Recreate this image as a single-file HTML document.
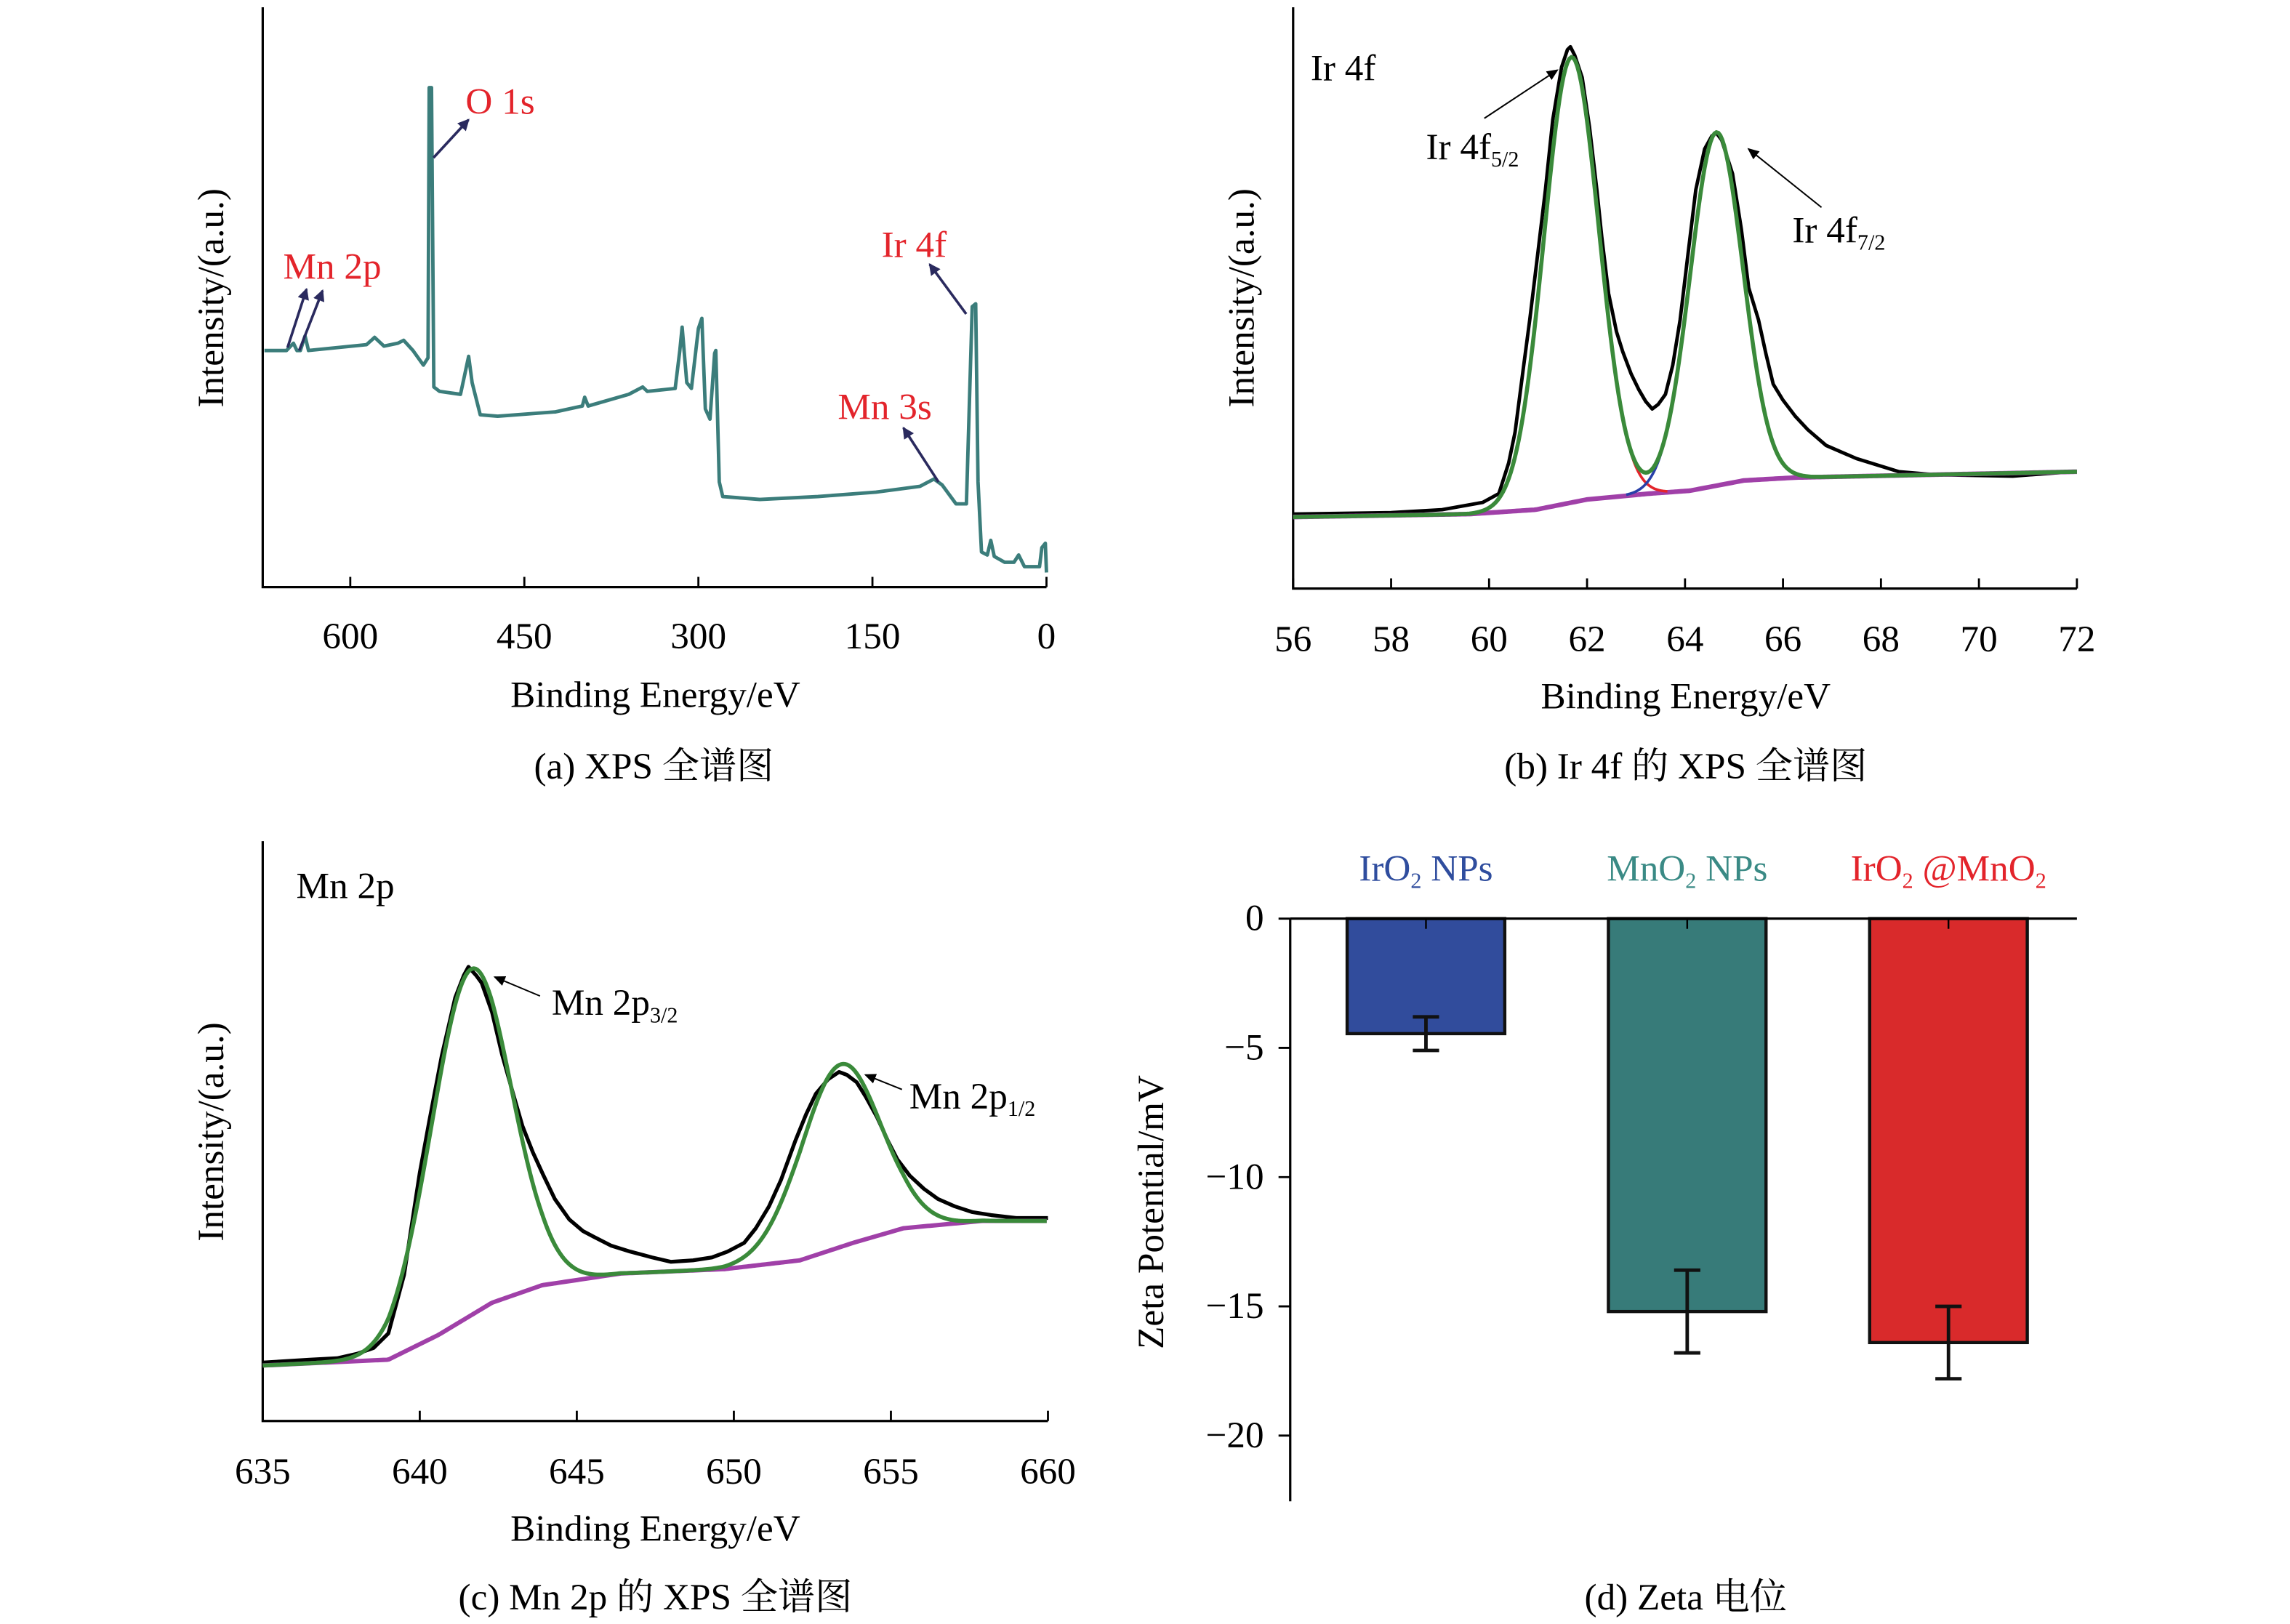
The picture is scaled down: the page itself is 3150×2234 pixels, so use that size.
<!DOCTYPE html>
<html><head><meta charset="utf-8"><style>
html,body{margin:0;padding:0;background:#fff;}
svg{display:block;}
text{font-family:"Liberation Serif","Noto Serif CJK SC","Noto Sans CJK SC",serif;}
</style></head><body>
<svg id="fig" width="3150" height="2234" viewBox="0 0 1569 1112" preserveAspectRatio="none" xmlns="http://www.w3.org/2000/svg">
<defs>
<marker id="ahN" markerWidth="8" markerHeight="8" refX="7" refY="4" orient="auto" markerUnits="userSpaceOnUse"><path d="M0,0 L8,4 L0,8 z" fill="#2a2a5e"/></marker>
<marker id="ahK" markerWidth="8" markerHeight="7" refX="7" refY="3.5" orient="auto" markerUnits="userSpaceOnUse"><path d="M0,0 L8,3.5 L0,7 z" fill="#000"/></marker>
</defs>
<g id="pa"></g>
<g id="pb"></g>
<g id="pc"></g>
<g id="pd"></g>
</svg>
<script>
// ---------- Panel a data ----------
const aBE = [674,655,649,646,643,639,636,611,586,579,571,559,554,546,537,533,532,530,528,523,505,498,495,488,473,423,400,398,395,360,348,344,320,316,314,310,306,300,297,294,290,286,285,282,279,247,197,147,109,97,90,78,69,64,61,59,56,51,48,45,36,28,24,19,6,4,1,0];
const aInt = [162,162,167,162,162,172,162,164,166,171,165,167,169,162,152,157,342,342,137,134,132,158,140,118,117,120,124,130,124,132,137,134,136,162,178,140,136,177,184,122,115,160,162,72,62,60,62,65,69,74,70,57,57,192,194,72,24,22,32,21,17,17,22,14,14,27,30,10];
const aTicks = [600,450,300,150,0];
// ---------- Panel b data ----------
const bEV = [56,58,59.04,59.87,60.2,60.4,60.53,60.7,60.83,61.0,61.15,61.3,61.48,61.6,61.66,61.75,61.9,62.05,62.2,62.3,62.44,62.6,62.73,62.9,63.06,63.2,63.33,63.45,63.6,63.75,63.9,64.05,64.22,64.4,64.55,64.64,64.75,64.97,65.15,65.3,65.5,65.65,65.8,66.0,66.25,66.5,66.88,67.5,68.37,69.08,70.69,71.9,72];
const bInt = [50,51,53,58,64,85,106,150,183,230,272,320,356,368,370,364,349,315,272,240,201,175,161,146,135,127,122,125,132,152,183,225,272,300,309,311,306,283,245,205,183,160,139,128,117,108,97,88,79,77,76,79,79];
const bBgEV = [56,59.6,60.95,62,63.27,64.1,65.2,66.25,72];
const bBgInt = [48,50,53,60,64,66,73,75,79];
const bPeakCenter = [61.68,64.64];
const bPeakHeight = [305,242];
const bPeakFWHM = [1.32,1.27];
const bTicks = [56,58,60,62,64,66,68,70,72];
// ---------- Panel c data ----------
const cEV = [635,636.5,637.37,638,638.53,639,639.5,640,640.3,640.7,641.13,641.4,641.55,641.8,641.97,642.3,642.62,643.0,643.27,643.6,643.92,644.3,644.76,645.2,645.55,646.1,646.7,647.4,648.0,648.7,649.3,649.8,650.33,650.7,651.12,651.5,651.96,652.3,652.61,653.0,653.35,653.6,653.91,654.2,654.56,654.9,655.21,655.6,656.05,656.5,657.03,657.6,658.19,659,660];
const cInt = [40,42,43,46,50,60,100,170,205,250,290,305,311,305,300,280,251,222,202,184,169,152,138,130,126,120,116,112,109,110,112,116,122,132,147,165,192,210,224,234,239,237,232,222,208,192,179,168,159,152,147,143,141,139,139];
const cBgEV = [635,639.0,640.6,642.3,643.9,646.4,649.7,652.1,653.8,655.4,657.9,660];
const cBgInt = [38,42,59,81,93,101,104,110,122,132,137,137];
const cPeakCenter = [641.63,653.4];
const cPeakHeight = [237,125];
const cPeakFWHM = [3.0,3.0];
const cTicks = [635,640,645,650,655,660];
// ---------- Panel d data ----------
const dCats = ["IrO2 NPs","MnO2 NPs","IrO2 @MnO2"];
const dVals = [-4.45,-15.2,-16.4];
const dErrHi = [-3.8,-13.6,-15.0];
const dErrLo = [-5.1,-16.8,-17.8];
const dTicks = [0,-5,-10,-15,-20];

const FS=25.5, SFS=15;
const NS="http://www.w3.org/2000/svg";
function mk(parent,tag,attrs,txt){const e=document.createElementNS(NS,tag);for(const k in attrs)e.setAttribute(k,attrs[k]);if(txt!==undefined)e.textContent=txt;parent.appendChild(e);return e;}
function pathFrom(xs,ys){return xs.map((x,i)=>(i?'L':'M')+x.toFixed(2)+','+ys[i].toFixed(2)).join(' ');}
function gauss(x,c,h,f){const s=f/2.3548;return h*Math.exp(-0.5*((x-c)/s)*((x-c)/s));}
function interp(x,xs,ys){if(x<=xs[0])return ys[0];for(let i=1;i<xs.length;i++){if(x<=xs[i]){const t=(x-xs[i-1])/(xs[i]-xs[i-1]);return ys[i-1]+t*(ys[i]-ys[i-1]);}}return ys[ys.length-1];}
function peakPath(xs,bg,c,h,f,X,Y){const px=[],py=[];xs.forEach((v,i)=>{const gv=gauss(v,c,h,f);if(gv>0.6){px.push(X(v));py.push(Y(bg[i]+gv));}});return pathFrom(px,py);}

// ===== Panel a =====
(function(){
const g=document.getElementById('pa');
const X=v=>717-(v/600)*(717-240);
const Y=v=>402-v;
const ax=mk(g,'path',{d:'M180,5 L180,402 L717,402',fill:'none',stroke:'#000','stroke-width':1.6});


aTicks.forEach(t=>{
  const tk=mk(g,'line',{x1:X(t),x2:X(t),y1:402,y2:395,stroke:'#000','stroke-width':1.4});
  
  
  const tl=mk(g,'text',{x:X(t),y:444,'font-size':FS,'text-anchor':'middle'},String(t));
  
  
});
const sp=mk(g,'path',{d:pathFrom(aBE.map(X),aInt.map(Y)),fill:'none',stroke:'#3b7d7b','stroke-width':2.4,'stroke-linejoin':'round'});


const xl=mk(g,'text',{x:449,y:484,'font-size':FS,'text-anchor':'middle'},'Binding Energy/eV');


const yl=mk(g,'text',{x:0,y:0,'font-size':FS,'text-anchor':'middle',transform:'translate(153,204) rotate(-90)'},'Intensity/(a.u.)');


const cap=mk(g,'text',{x:448,y:533,'font-size':FS,'text-anchor':'middle'},'(a) XPS 全谱图');


const labs=[['O 1s',319,78],['Mn 2p',194,191],['Ir 4f',604,176],['Mn 3s',574,287]];
labs.forEach(l=>{const t=mk(g,'text',{x:l[1],y:l[2],'font-size':FS,fill:'#e3242b'},l[0]);
  
  });
const arr=[[297,108,321,82],[197,238,210,198],[205,240,221,199],[662,215,637,181],[643,330,619,293]];
arr.forEach(a=>{const l=mk(g,'line',{x1:a[0],y1:a[1],x2:a[2],y2:a[3],stroke:'#2a2a5e','stroke-width':1.8,'marker-end':'url(#ahN)'});
  
  });
})();

// ===== Panel b =====
(function(){
const g=document.getElementById('pb');
const X=v=>886+(v-56)*(1423-886)/16;
const Y=v=>402-v;
const ax=mk(g,'path',{d:'M886,5 L886,403 L1423,403',fill:'none',stroke:'#000','stroke-width':1.6});


bTicks.forEach(t=>{
  const tk=mk(g,'line',{x1:X(t),x2:X(t),y1:403,y2:396,stroke:'#000','stroke-width':1.4});
  
  
  const tl=mk(g,'text',{x:X(t),y:446,'font-size':FS,'text-anchor':'middle'},String(t));
  
  
});
const xs=[];for(let v=56;v<=72.0001;v+=0.04)xs.push(v);
const bg=xs.map(v=>interp(v,bBgEV,bBgInt));
const env=xs.map((v,i)=>bg[i]+gauss(v,bPeakCenter[0],bPeakHeight[0],bPeakFWHM[0])+gauss(v,bPeakCenter[1],bPeakHeight[1],bPeakFWHM[1]));
const black=mk(g,'path',{d:pathFrom(bEV.map(X),bInt.map(Y)),fill:'none',stroke:'#000','stroke-width':2.4,'stroke-linejoin':'round'});


const bgl=mk(g,'path',{d:pathFrom(xs.map(X),bg.map(Y)),fill:'none',stroke:'#a040a8','stroke-width':3.2});


const r=mk(g,'path',{d:peakPath(xs,bg,bPeakCenter[0],bPeakHeight[0],bPeakFWHM[0],X,Y),fill:'none',stroke:'#e3242b','stroke-width':1.8});


const b=mk(g,'path',{d:peakPath(xs,bg,bPeakCenter[1],bPeakHeight[1],bPeakFWHM[1],X,Y),fill:'none',stroke:'#2840a8','stroke-width':1.8});


const gr=mk(g,'path',{d:pathFrom(xs.map(X),env.map(Y)),fill:'none',stroke:'#3a8a3a','stroke-width':2.8});


const xl=mk(g,'text',{x:1155,y:485,'font-size':FS,'text-anchor':'middle'},'Binding Energy/eV');


const yl=mk(g,'text',{x:0,y:0,'font-size':FS,'text-anchor':'middle',transform:'translate(859,204) rotate(-90)'},'Intensity/(a.u.)');


const cap=mk(g,'text',{x:1155,y:533,'font-size':FS,'text-anchor':'middle'},'(b) Ir 4f 的 XPS 全谱图');


const t1=mk(g,'text',{x:898,y:55,'font-size':FS},'Ir 4f');


const l1=mk(g,'text',{x:977,y:109,'font-size':FS},'Ir 4f');


mk(l1,'tspan',{'font-size':SFS,dy:5},'5/2');
const l2=mk(g,'text',{x:1228,y:166,'font-size':FS},'Ir 4f');


mk(l2,'tspan',{'font-size':SFS,dy:5},'7/2');
const a1=mk(g,'line',{x1:1017,y1:81,x2:1067,y2:48,stroke:'#000','stroke-width':1,'marker-end':'url(#ahK)'});


const a2=mk(g,'line',{x1:1248,y1:142,x2:1198,y2:102,stroke:'#000','stroke-width':1,'marker-end':'url(#ahK)'});


})();

// ===== Panel c =====
(function(){
const g=document.getElementById('pc');
const X=v=>180+(v-635)*(718-180)/25;
const Y=v=>973-v;
const ax=mk(g,'path',{d:'M180,576 L180,973 L718,973',fill:'none',stroke:'#000','stroke-width':1.6});


cTicks.forEach(t=>{
  const tk=mk(g,'line',{x1:X(t),x2:X(t),y1:973,y2:966,stroke:'#000','stroke-width':1.4});
  
  
  const tl=mk(g,'text',{x:X(t),y:1016,'font-size':FS,'text-anchor':'middle'},String(t));
  
  
});
const xs=[];for(let v=635;v<=660.0001;v+=0.06)xs.push(v);
const bg=xs.map(v=>interp(v,cBgEV,cBgInt));
const env=xs.map((v,i)=>bg[i]+gauss(v,cPeakCenter[0],cPeakHeight[0],cPeakFWHM[0])+gauss(v,cPeakCenter[1],cPeakHeight[1],cPeakFWHM[1]));
const black=mk(g,'path',{d:pathFrom(cEV.map(X),cInt.map(Y)),fill:'none',stroke:'#000','stroke-width':2.6,'stroke-linejoin':'round'});


const bgl=mk(g,'path',{d:pathFrom(xs.map(X),bg.map(Y)),fill:'none',stroke:'#a040a8','stroke-width':3});


const r=mk(g,'path',{d:peakPath(xs,bg,cPeakCenter[0],cPeakHeight[0],cPeakFWHM[0],X,Y),fill:'none',stroke:'#e3242b','stroke-width':1.6});


const b=mk(g,'path',{d:peakPath(xs,bg,cPeakCenter[1],cPeakHeight[1],cPeakFWHM[1],X,Y),fill:'none',stroke:'#2840a8','stroke-width':1.6});


const gr=mk(g,'path',{d:pathFrom(xs.map(X),env.map(Y)),fill:'none',stroke:'#3a8a3a','stroke-width':2.8});


const xl=mk(g,'text',{x:449,y:1055,'font-size':FS,'text-anchor':'middle'},'Binding Energy/eV');


const yl=mk(g,'text',{x:0,y:0,'font-size':FS,'text-anchor':'middle',transform:'translate(153,775) rotate(-90)'},'Intensity/(a.u.)');


const cap=mk(g,'text',{x:449,y:1102,'font-size':FS,'text-anchor':'middle'},'(c) Mn 2p 的 XPS 全谱图');


const t1=mk(g,'text',{x:203,y:615,'font-size':FS},'Mn 2p');


const l1=mk(g,'text',{x:378,y:695,'font-size':FS},'Mn 2p');


mk(l1,'tspan',{'font-size':SFS,dy:5},'3/2');
const l2=mk(g,'text',{x:623,y:759,'font-size':FS},'Mn 2p');


mk(l2,'tspan',{'font-size':SFS,dy:5},'1/2');
const a1=mk(g,'line',{x1:370,y1:682,x2:339,y2:669,stroke:'#000','stroke-width':1,'marker-end':'url(#ahK)'});


const a2=mk(g,'line',{x1:618,y1:746,x2:593,y2:736,stroke:'#000','stroke-width':1,'marker-end':'url(#ahK)'});


})();

// ===== Panel d =====
(function(){
const g=document.getElementById('pd');
const Yv=v=>629+(-v)*(983-629)/20;
const centers=[977,1156,1335];
const bw=108;
const fills=['#314c9c','#377b79','#d92a2b'];
const lcol=['#2f4d9e','#3a8a85','#e3242b'];
const ax=mk(g,'path',{d:'M884,629 L884,1028',fill:'none',stroke:'#000','stroke-width':1.6});


dTicks.forEach(t=>{
  const tk=mk(g,'line',{x1:876,x2:884,y1:Yv(t),y2:Yv(t),stroke:'#000','stroke-width':1.4});
  
  
  const lab=t<0?'\u2212'+(-t):String(t);
  const tl=mk(g,'text',{x:866,y:Yv(t)+8,'font-size':FS,'text-anchor':'end'},lab);
  
  
});
dVals.forEach((v,i)=>{
  const r=mk(g,'rect',{x:centers[i]-bw/2,y:629,width:bw,height:Yv(v)-629,fill:fills[i],stroke:'#111','stroke-width':2.2});
  
  
  const e=mk(g,'path',{d:`M${centers[i]},${Yv(dErrHi[i])} L${centers[i]},${Yv(dErrLo[i])} M${centers[i]-9},${Yv(dErrHi[i])} L${centers[i]+9},${Yv(dErrHi[i])} M${centers[i]-9},${Yv(dErrLo[i])} L${centers[i]+9},${Yv(dErrLo[i])}`,fill:'none',stroke:'#111','stroke-width':2.4});
  
  
  const tk=mk(g,'line',{x1:centers[i],x2:centers[i],y1:629,y2:636,stroke:'#000','stroke-width':1.2});
  
  
  const parts=dCats[i].split('2');
  const tl=mk(g,'text',{x:centers[i],y:603,'font-size':FS,'text-anchor':'middle',fill:lcol[i]});
  
  
  parts.forEach((p,j)=>{mk(tl,'tspan',{dy:j?-5:0},p);if(j<parts.length-1)mk(tl,'tspan',{'font-size':SFS,dy:5},'2');});
});
const zl=mk(g,'line',{x1:884,x2:1423,y1:629,y2:629,stroke:'#000','stroke-width':1.6});


const yl=mk(g,'text',{x:0,y:0,'font-size':FS,'text-anchor':'middle',transform:'translate(797,830) rotate(-90)'},'Zeta Potential/mV');


const cap=mk(g,'text',{x:1155,y:1102,'font-size':FS,'text-anchor':'middle'},'(d) Zeta 电位');


})();
</script>
</body></html>
